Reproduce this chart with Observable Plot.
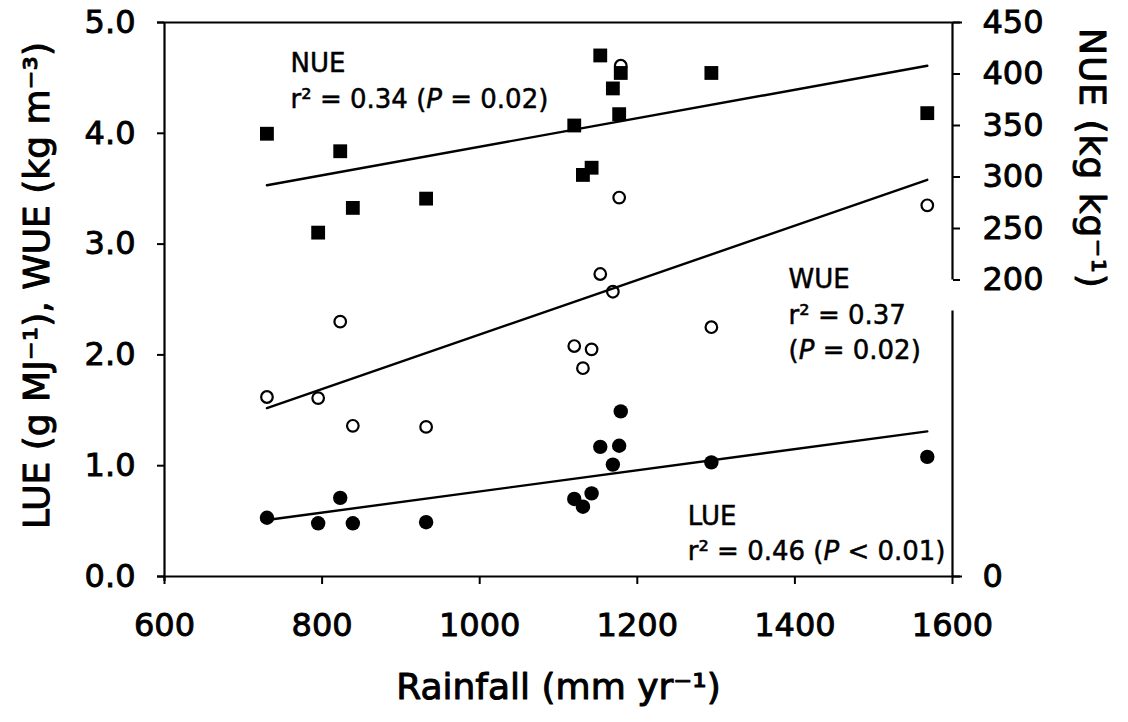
<!DOCTYPE html>
<html>
<head>
<meta charset="utf-8">
<script src="https://cdn.jsdelivr.net/npm/d3@7"></script>
<script src="https://cdn.jsdelivr.net/npm/@observablehq/plot@0.6"></script>
<style>
  html, body { margin: 0; padding: 0; background: #fff; }
  svg { display: block; }
</style>
</head>
<body>
<div id="chart"></div>
<script>
// ---- data ----
const rainfall = [730, 795, 823, 839, 932, 1120, 1131, 1142, 1153, 1169, 1177, 1179, 1294, 1568];
const lue = [0.53, 0.48, 0.71, 0.48, 0.49, 0.70, 0.63, 0.75, 1.17, 1.01, 1.18, 1.49, 1.03, 1.08];
const wue = [1.62, 1.61, 2.30, 1.36, 1.35, 2.08, 1.88, 2.05, 2.73, 2.57, 3.42, 4.61, 2.25, 3.35];
const nue = [342, 246, 325, 270, 279, 350, 302, 309, 418, 386, 361, 401, 401, 362];

// regression line end points
const fitRain = [730, 1568];
const lueFit = [0.51, 1.31];
const wueFit = [1.52, 3.58];
const nueFit = [292, 408];

// ticks
const xTicks = [600, 800, 1000, 1200, 1400, 1600];
const yTicks = [0, 1, 2, 3, 4, 5];
const nueTicks = [0, 200, 250, 300, 350, 400, 450];

// annotation labels (data coordinates: rainfall, left-axis units)
const annotations = [
  {x: 760, y: 4.632, text: "NUE"},
  {x: 760, y: 4.306, text: "r² = 0.34 (*P* = 0.02)"},
  {x: 1392, y: 2.679, text: "WUE"},
  {x: 1392, y: 2.353, text: "r² = 0.37"},
  {x: 1392, y: 2.037, text: "(*P* = 0.02)"},
  {x: 1264, y: 0.536, text: "LUE"},
  {x: 1264, y: 0.220, text: "r² = 0.46 (*P* < 0.01)"}
];

// broken right axis (NUE) mapped onto left-axis units
const nueTop = 450, nueBreak = 200, leftAtBreak = 2.676, leftTop = 5;
const nueToLeft = n => n === 0 ? 0 : leftTop - (nueTop - n) * (leftTop - leftAtBreak) / (nueTop - nueBreak);
const lowerSegmentTop = 2.396;
const rightSegments = [
  {x: 1600, y1: nueToLeft(nueBreak), y2: nueToLeft(nueTop)},
  {x: 1600, y1: 0, y2: lowerSegmentTop}
];

// ---- tables ----
const lueData = rainfall.map((r, i) => ({rain: r, v: lue[i]}));
const wueData = rainfall.map((r, i) => ({rain: r, v: wue[i]}));
const nueData = rainfall.map((r, i) => ({rain: r, v: nueToLeft(nue[i])}));
const fits = [
  ...fitRain.map((r, i) => ({series: "LUE", rain: r, v: lueFit[i]})),
  ...fitRain.map((r, i) => ({series: "WUE", rain: r, v: wueFit[i]})),
  ...fitRain.map((r, i) => ({series: "NUE", rain: r, v: nueToLeft(nueFit[i])}))
];
const nueTickPos = nueTicks.map(nueToLeft);
const nueLabel = new Map(nueTickPos.map((p, i) => [p, String(nueTicks[i])]));

const FONT = "DejaVu Sans, Verdana, sans-serif";

const chart = Plot.plot({
  width: 1128,
  height: 722,
  marginLeft: 164,
  marginRight: 176,
  marginTop: 22,
  marginBottom: 146,
  style: {fontFamily: FONT, background: "#fff", color: "#000"},
  x: {domain: [600, 1600]},
  y: {domain: [0, 5]},
  marks: [
    // frame
    Plot.ruleY([0, 5], {strokeWidth: 2.2, insetLeft: -7, insetRight: -10}),
    Plot.ruleX([600], {strokeWidth: 2.2, insetBottom: -5}),
    Plot.ruleX(rightSegments, {x: "x", y1: "y1", y2: "y2", strokeWidth: 2.2}),
    // axes
    Plot.axisX(xTicks, {anchor: "bottom", tickSize: 8, tickPadding: 29, strokeWidth: 2,
      fontSize: 32, label: null, tickFormat: d => String(d)}),
    Plot.axisY(yTicks, {anchor: "left", tickSize: 7, tickPadding: 22, strokeWidth: 2,
      fontSize: 32, label: null, tickFormat: d3.format(".1f")}),
    Plot.axisY(nueTickPos, {anchor: "right", tickSize: 7, tickPadding: 23, strokeWidth: 2,
      fontSize: 32, label: null, tickFormat: d => nueLabel.get(d)}),
    // regression lines
    Plot.line(fits, {x: "rain", y: "v", z: "series", stroke: "#000", strokeWidth: 2.4}),
    // points
    Plot.dot(wueData, {x: "rain", y: "v", r: 5.8, symbol: "circle", fill: "none", stroke: "#000", strokeWidth: 2.2}),
    Plot.dot(lueData, {x: "rain", y: "v", r: 7.2, symbol: "circle", fill: "#000", stroke: "none"}),
    Plot.dot(nueData, {x: "rain", y: "v", r: 7.8, symbol: "square", fill: "#000", stroke: "none"}),
    // annotations
    Plot.text(annotations, {x: "x", y: "y", text: "text", textAnchor: "start", fontSize: 26, fill: "#000",
      stroke: "#000", strokeWidth: 0.5}),
    // axis titles
    Plot.text(["Rainfall (mm yr⁻¹)"], {frameAnchor: "bottom", textAnchor: "middle", dy: 122, fontSize: 36,
      fill: "#000", stroke: "#000", strokeWidth: 1}),
    Plot.text(["LUE (g MJ⁻¹), WUE (kg m⁻³)"], {frameAnchor: "left", textAnchor: "middle", rotate: -90,
      dx: -127, dy: -14, fontSize: 36, fill: "#000", stroke: "#000", strokeWidth: 1}),
    Plot.text(["NUE (kg kg⁻¹)"], {frameAnchor: "right", textAnchor: "middle", rotate: 90,
      dx: 139, dy: -141, fontSize: 36, fill: "#000", stroke: "#000", strokeWidth: 1})
  ]
});

// thicken tick labels to match the heavy print; letter-space the right title a little
d3.select(chart).selectAll("text").each(function () {
  const t = this.textContent;
  const sel = d3.select(this);
  if (/^[0-9.]+$/.test(t)) sel.style("stroke", "#000").style("stroke-width", "0.9px");
  if (t.startsWith("NUE (")) sel.style("letter-spacing", "1px");
});

// italic "P" in the statistics labels
d3.select(chart).selectAll("text").each(function () {
  const t = this.textContent;
  if (t.includes("*")) {
    const parts = t.split("*");
    const sel = d3.select(this);
    sel.text(null);
    parts.forEach((p, i) => sel.append("tspan").text(p).style("font-style", i % 2 ? "italic" : null));
  }
});

document.getElementById("chart").appendChild(chart);
</script>
</body>
</html>
